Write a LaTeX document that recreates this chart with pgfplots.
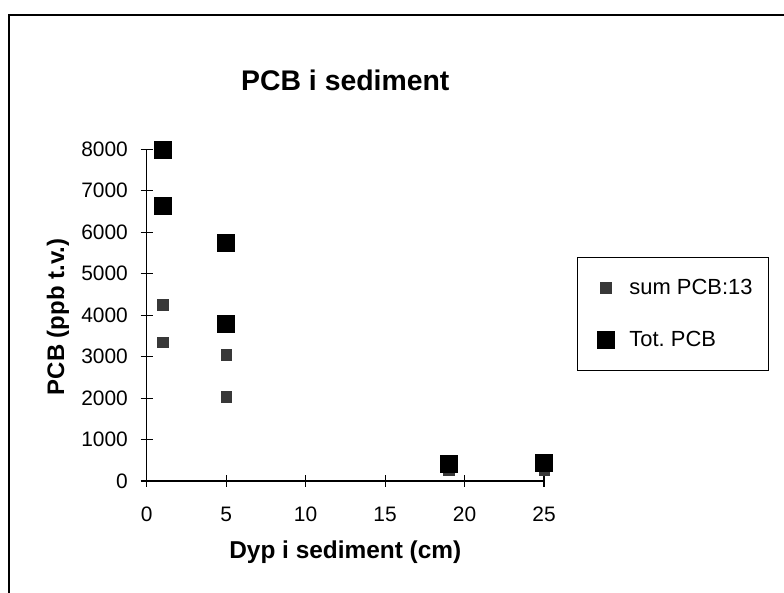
\documentclass[border=0pt]{standalone}
\usepackage{pgfplots}
\pgfplotsset{compat=1.18}
\usepackage{fontspec}
\setmainfont{Liberation Sans}
\frenchspacing
\begin{document}
\begin{tikzpicture}[x=1bp,y=1bp]
\path[use as bounding box] (0,0) rectangle (784,593);
\draw[line width=1.3bp] (9,0) -- (9,578) -- (784,578);
\begin{axis}[
  at={(146.7bp,112bp)}, anchor=south west,
  scale only axis, width=397.3bp, height=331.7bp,
  xmin=0, xmax=25, ymin=0, ymax=8000,
  axis lines=left,
  axis line style={-, line width=1.1bp},
  xtick={0,5,10,15,20,25},
  ytick={0,1000,2000,3000,4000,5000,6000,7000,8000},
  tick align=center, major tick length=12bp,
  tick style={line width=1.1bp, black},
  ticklabel style={font=\fontsize{21}{24}\selectfont},
  /pgf/number format/assume math mode=true,
  /pgf/number format/1000 sep={},
  scaled y ticks=false,
  yticklabel style={inner sep=0pt, xshift=-12.7bp},
  xticklabel style={inner sep=0pt, yshift=-20bp},
  legend image code/.code={\path (0bp,0bp) (35bp,0bp); \draw[#1] plot coordinates {(12bp,0bp)};},
  legend style={at={(axis description cs:1.083,0.675)}, anchor=north west,
    draw=black, line width=1bp, font=\fontsize{22}{26}\selectfont,
    nodes={inner sep=0pt},
    inner xsep=16bp, inner ysep=22bp, row sep=35bp},
  legend cell align=left,
]
\addplot[only marks, mark=square*, mark size=5.2bp, color=black!78] coordinates {
(1,4250) (1,3350) (5,3050) (5,2030) (19,270) (25,270)};
\addlegendentry{sum PCB:13}
\addplot[only marks, mark=square*, mark size=8.5bp, color=black] coordinates {
(1,8000) (1,6650) (5,5750) (5,3800) (19,425) (25,450)};
\addlegendentry{Tot. PCB}
\end{axis}
\node[font=\bfseries\fontsize{28.5}{32}\selectfont] at (345.3,513) {PCB i sediment};
\node[font=\bfseries\fontsize{24.5}{28}\selectfont] at (345.3,41) {Dyp i sediment (cm)};
\node[font=\bfseries\fontsize{24}{28}\selectfont, rotate=90] at (58,276) {PCB (ppb t.v.)};
\end{tikzpicture}
\end{document}
